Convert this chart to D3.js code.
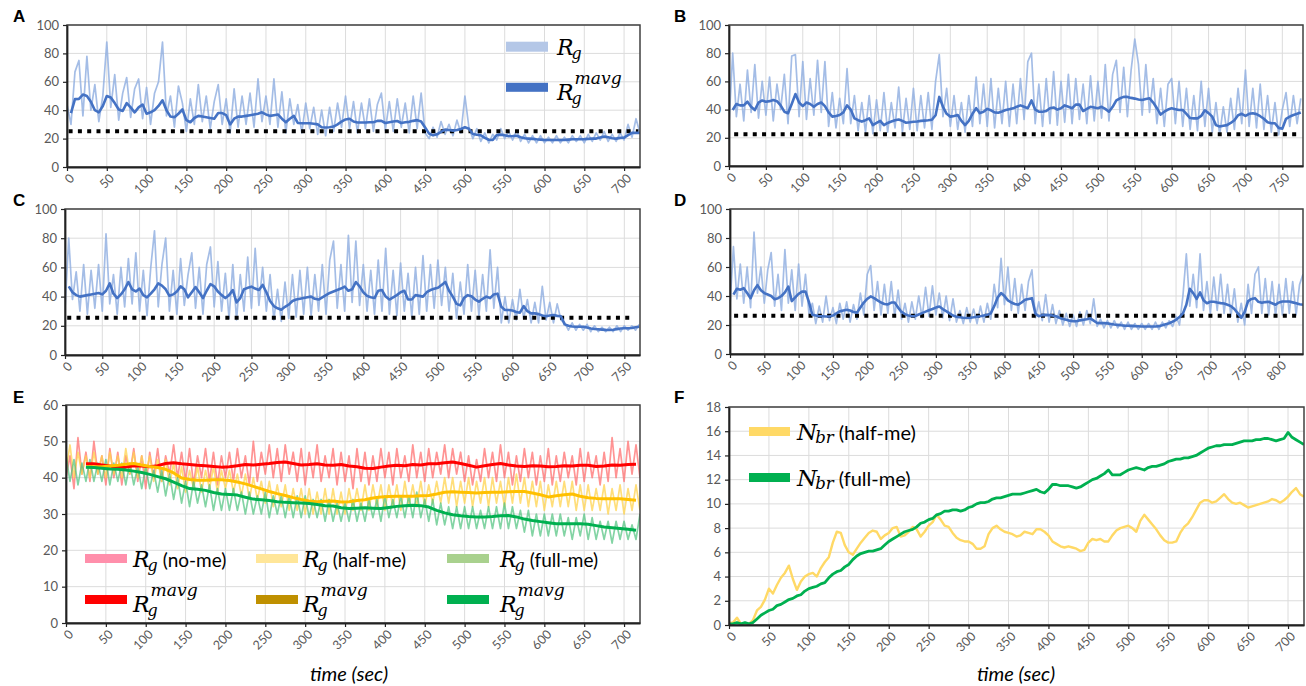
<!DOCTYPE html>
<meta charset="utf-8">
<script src="https://cdn.jsdelivr.net/npm/d3@7"></script>
<style>
  body { margin: 0; background: #fff; }
  .tk { font-family: Lato, "Liberation Sans", sans-serif; fill: #595959; }
  .lab { font-family: "Liberation Sans", Arial, sans-serif; font-weight: bold; font-size: 17px; }
  .ttl { font-family: Lato, "Liberation Sans", sans-serif; font-style: italic; font-size: 20px; }
  .leg { font-family: Lato, "Liberation Sans", sans-serif; }
</style>
<body>
<div id="vis"></div>
<script>
// ---- data (time step 5 s unless noted) ----
// panel A, raw Rg t=0..720, moving average t=5..720
var rawA = [44,30,67,75,36,78,40,58,32,50, 88,42,65,33,52,63,35,55,62,34, 56,30,52,60,88,36,50,28,57,45,
  25,48,30,58,32,50,27,46,58,30, 48,24,55,28,50,30,52,28,62,32, 50,30,62,28,53,24,48,30,44,24,
  45,27,42,23,40,22,42,25,45,28, 50,27,46,24,45,27,48,25,44,52, 26,46,25,48,28,45,24,50,27,52,
  24,20,28,21,32,23,30,22,33,24, 50,28,20,27,18,24,17,23,19,27, 20,25,19,26,18,23,17,22,17,22,
  17,21,17,22,17,21,17,22,18,22, 17,23,18,24,19,25,18,23,18,24, 19,30,21,34,24];
var mavgA = [38,47.8,48,51,50,46,40,38.5,43,50, 49,45,40.5,39.5,45,42,38.5,42,44,37.5,
  38.5,40,43,47,40,35.5,35,37.5,40.5,33, 31.5,34.5,36,35.5,35,34.5,34,38,38,36.5,
  30,34,35.5,35.5,36,36.5,37,37.5,38.5,37, 36,36.5,37,34,31.5,34,36,31,30.8,30.8,
  30.8,30.5,30,28,27.8,28,28.5,30,32,33.5, 34,32,31.3,31.3,31.3,31.5,31.5,32.5,32.5,31,
  31.5,32,32.4,31,31.5,31.8,32.5,33,32,27.8, 23.5,22.3,23,24.8,26.3,26,25.6,26,26.8,28,
  27,23.2,22.7,22.3,20.5,19.2,19,22.5,22.8,22.3, 21.7,21.8,22,21,20.2,20,19.8,19.5,19.3,19,
  19,19,19,19,19,19.3,19.5,19.5,19.5,19.6, 19.8,20,20,20.8,21.5,21,20.3,20,20.5,20.7, 22.5,24,24,24];

// panel B, raw t=0..775, mavg t=5..775
var rawB = [30,80,35,58,32,68,38,72,34,60, 36,63,32,58,40,65,30,78,79,35, 74,33,62,36,75,38,74,28,52,27,
  48,30,69,30,50,25,45,24,50,23, 47,25,52,24,45,27,56,24,48,26, 55,25,50,27,52,26,60,79,35,55,
  28,50,26,45,24,50,28,63,30,58, 28,62,27,55,30,60,28,58,30,62, 33,74,80,30,58,28,62,30,67,29,
  60,31,65,30,62,33,58,30,64,32, 60,34,72,32,65,75,38,70,35,68, 90,72,36,72,38,62,30,55,28,58,
  62,30,60,28,55,26,50,25,60,28, 55,24,45,22,42,24,48,26,55,30, 68,28,55,27,58,26,50,24,45,22,
  40,52,28,50,30,48];
var mavgB = [39.7,44,43,43,45.6,42,39.7,45,46.5,45.6, 46,46.8,46,43,38.5,37.4,44,51,45,42.5,
  45,44,42,44,45,42.5,38,35,35.5,36.2, 38,43,40,33.8,32.5,31.5,32.5,33.8,29,30.5,
  32,29,30.5,31.5,32.5,33,32,30.7,31,31.4, 31.6,32,32.2,32.4,32.8,36,49,42,37,35,
  35.5,36.2,32,29,32,37,41,37.5,38.5,40.5, 39.5,38,37.8,38.7,39.7,40.3,40.9,42,43,42,
  41,46.5,40,38.5,38.5,39,41,41.5,40,41, 43,42,41,43.5,43.5,39,40.5,42,41.5,41,
  42,40.5,38.5,42,46.5,48,49,49,48.3,47.8, 47.2,46.8,47.5,48,45,41,36.5,38.5,40,40.9,
  40.3,39.7,39.7,37,34,33.8,33.8,35.5,39.5,37.5, 35,29,28,28.5,29,30.5,32.5,36,37,35.5,
  37,37.4,36.8,35.3,33.5,31,30.3,30.3,27,26.5, 33.5,35,36.2,37,38];

// panel C, raw t=0..770, mavg t=5..770
var rawC = [32,80,38,57,30,62,28,58,32,62, 30,83,35,55,28,60,33,66,35,70, 30,58,27,60,85,33,62,80,30,58,
  28,66,34,55,70,32,60,28,62,74, 33,64,30,56,25,62,24,55,30,67, 32,73,34,60,30,55,24,45,23,50,
  25,55,26,58,28,60,27,55,30,62, 28,65,78,32,62,30,82,36,78,34, 62,30,58,28,65,30,73,28,58,27,
  63,30,56,26,60,28,68,30,62,32, 65,34,60,30,56,25,50,28,62,30, 58,27,55,30,72,32,60,22,40,22,
  38,24,45,25,38,22,36,22,47,24, 36,22,35,24,22,17,22,17,21,17, 21,16,20,16,19,16,19,16,20,16,
  20,17,20,17,21];
var mavgC = [47,43,41,40,40.5,41,41.5,42,42.5,41.5, 44,49,42,39,41.5,45,50,45,43.5,45.5,
  41,39.5,42,45,49,47.5,45,40.5,41.5,43.5, 47,45,39.5,43,46.5,43,39,44,48.5,47,
  43.5,41,39,41,44.5,36,39,45,46,46.8, 45.5,44.5,48,43,37,33.5,32,31,33,34.5,
  37,38,38.5,39,39.5,40,38.5,38,39.5,41, 42.5,43.5,44.5,45.5,46.8,44,45,50,47,43,
  40.5,39.5,39,44,44.5,40,38,39.5,41,43, 44,38,38,41,40.5,40,43,44.5,45.3,46,
  48,50,44,40,35,34,39,41,40.3,38, 36.5,38.5,40,39,41.5,42,33,30.8,30.8,30.5,
  29.5,29,33.5,30,28.5,28.5,28,27,26.5,27, 27.4,26.8,26.5,21,20,19.5,19.4,19.4,19.4,18.8,
  18.2,17.8,17.6,17.4,17.2,17.1,17.3,17.7,18.1,18.3, 18.3,18.5,19,19.4];

// panel D, raw t=0..835, mavg t=5..835
var rawD = [34,74,38,62,35,60,32,84,42,60, 35,58,70,33,55,30,72,35,58,30, 62,33,55,28,35,21,33,22,40,23,
  32,21,35,24,36,22,34,24,42,27, 55,61,30,50,27,48,28,50,26,44, 24,35,22,36,24,40,25,46,26,47,
  27,42,25,40,23,38,22,30,21,32, 22,31,21,33,22,35,24,48,32,66, 34,60,30,52,28,48,30,50,58,25,
  36,23,41,22,34,21,30,20,28,19, 27,19,29,20,30,21,38,19,24,18, 23,18,23,18,22,17,22,17,21,17,
  21,17,21,17,22,17,22,18,23,19, 26,20,40,69,33,55,32,69,30,50, 28,53,30,55,28,48,26,45,22,35,
  20,48,28,55,60,28,52,27,50,26, 48,27,52,28,50,27,48,55];
var mavgD = [41,45,44.3,45.4,42,38.5,44,47.5,44,42, 41,40,37.8,38.5,40,42.5,46.5,36.5,39,41.5,
  43,43,36,27,26.5,26,26,25.9,25.9,26.5, 28,29.4,30,30.5,30,29,28.5,32,35.5,38,
  39.7,38.5,37,35.5,34.5,34.2,35.5,35.5,32,29, 27.5,26.5,26,26.2,27.2,28.2,29.2,30.2,31,32,
  32.8,31,29.6,28,26.5,25.7,25.3,25,24.8,25, 25.3,25.7,26,26.5,27,28,33,39,42,40,
  37,35.5,34.5,34,35.5,37.4,38,38.5,28,26, 26.8,27,26.8,26.5,26,25,24.2,23.6,23,22.6,
  22.6,23.2,23.6,24,24.6,23,21.4,21.3,21.3,21.1, 20.7,20.3,20.1,19.8,19.6,19.5,19.4,19.2,19.1,19,
  19,19,19,19,19.2,19.8,20.5,21.2,22.3,23.6, 25.5,28,34,45,42,38,42.5,37,35,36,
  36,35.5,35.1,34.8,34,33,31,28,25,29, 36.5,38,38.5,36,35.3,35.8,36,35,34,35.5,
  36.2,36.2,36.2,35.6,35,34.3,34];

// threshold (dotted) lines A..D: value, start, end (s)
var thrValue = [25.2, 22.5, 25.5, 26.4];
var thrStart = [2, 7, 3, 6];
var thrEnd = [718, 772, 762, 827];

// panel E, raw t=0..720 (step 5), moving averages t=25..715 (step 10)
var rawNoMe = [40,46,37,51,41,47,39,50,41,46, 38,48,40,47,38,46,41,48,39,46, 37,47,40,48,39,46,41,49,40,47,
  39,48,38,46,40,48,39,47,38,46, 40,47,39,48,40,46,38,50,39,47, 41,49,40,48,39,49,41,47,39,48,
  38,47,40,49,39,46,40,48,38,47, 39,46,37,48,39,47,38,46,39,48, 40,47,38,48,40,46,39,49,40,47,
  39,48,40,47,41,49,40,48,41,47, 39,46,38,45,39,48,40,47,39,49, 40,47,38,46,39,48,40,47,38,46,
  39,48,38,46,39,47,40,46,38,48, 39,47,40,46,38,47,39,51,40,48, 39,50,41,49,40];
var rawHalfMe = [42,49,40,47,41,46,40,47,41,46, 40,47,41,46,40,48,41,47,40,46, 41,46,39,45,39,45,38,44,37,43,
  36,42,37,43,36,42,37,43,36,42, 37,42,36,41,35,41,34,40,34,39, 33,39,32,38,32,38,31,37,31,37,
  30,37,30,36,30,37,30,37,30,36, 30,37,31,37,31,38,31,38,32,38, 31,38,32,38,31,39,32,38,32,39,
  32,38,33,39,33,40,33,40,32,39, 33,40,32,39,33,40,32,40,33,39, 32,40,33,41,33,40,32,39,32,39,
  31,38,32,39,32,39,32,39,31,38, 31,38,31,37,31,38,30,37,31,38, 30,37,31,38,31];
var rawFullMe = [46,39,45,38,44,39,45,39,44,39, 45,38,44,39,44,38,44,38,43,37, 43,37,42,36,42,35,41,34,40,33,
  39,32,39,33,38,32,38,31,37,31, 37,31,37,31,36,30,36,30,35,30, 36,29,35,30,35,29,35,29,35,29,
  35,29,34,29,34,28,34,28,33,28, 33,28,34,28,33,28,34,29,34,28, 35,29,34,29,35,29,35,29,36,29,
  34,28,34,27,33,27,32,26,32,26, 32,26,32,26,31,26,32,26,32,26, 33,26,32,26,31,25,31,24,30,24,
  30,24,30,24,30,24,29,23,29,24, 30,23,29,23,28,23,28,22,28,23, 28,23,27,23,30];
var mavgNoMe = [43.8,43.8,43.5,43.2,42.8,42.9,43.3,43.2,43,43.3, 43.9,44.1,43.8,43.6,43.4,43.3,43.1,42.9,43,43.3,
  43.6,43.5,43.7,43.9,44.2,44.3,43.9,43.5,43.6,43.8, 43.5,43.4,43.6,43.2,43,42.6,42.5,42.9,43.2,43.4,
  43.3,43.6,43.5,43.8,43.8,44.1,44.3,43.9,43.4,42.9, 43.3,43.6,43.9,43.5,43.2,43.1,43.3,43.2,43,43.1,
  43.3,43.2,43.4,43.4,43.1,43.2,43.5,43.4,43.6,43.7];
var mavgHalfMe = [43,43,43,43.2,43.4,43.7,43.9,43.5,43.1,42.8, 42.3,41.3,39.9,39.5,39.3,39.3,39.4,39.4,39.2,38.8,
  38.3,37.6,36.9,36.2,35.6,35.1,34.5,34,33.6,33.4, 33.5,33.6,33.3,33.4,33.7,33.9,34.4,34.7,34.8,34.9,
  34.9,34.9,35,35.1,35.5,36,36.1,36,35.9,35.8, 35.9,36,36,36.1,36.2,36.2,35.8,35.3,34.7,35,
  35.3,35.5,34.9,34.5,34.3,34.2,34.2,34.2,34,33.8];
var mavgFullMe = [42.9,42.8,42.6,42.4,42.3,42.1,41.8,41.4,40.9,40.3, 39.7,38.8,37.8,37,36.8,36.5,35.9,35.5,35.4,35.2,
  34.6,34.1,33.9,33.7,33.4,33.2,33.1,33,32.9,32.6, 32.3,32.2,31.7,31.5,31.6,31.7,31.6,31.5,31.8,32.1,
  32.3,32.4,32.3,31.9,31,30.3,29.8,29.5,29.3,29.2, 29.2,29.3,29.5,29.6,29.2,28.6,28.2,27.9,27.6,27.3,
  27.3,27.3,27.3,27.2,26.8,26.4,26.2,26,25.8,25.5];

// panel F, Nbr t=0..720
var nbrHalfMe = [0.2,0.2,0.6,0.1,0.1,0.1,0.4,1.2,1.5,2.1, 3,2.6,3.3,3.9,4.3,4.9,3.8,2.9,3.6,4,
  4.2,4.3,4,4.7,5.2,5.6,6.8,7.7,7.6,6.6, 6,5.8,6.3,6.8,7.2,7.6,7.8,7.7,7.1,7.4,
  7.6,8,8.1,7.3,7.4,7.7,8.1,7.9,7.3,7.7, 8.2,8.5,9.1,8.7,8.2,8.1,7.6,7.2,7,6.9,
  6.9,6.7,6.3,6.3,6.5,7.5,8,8.2,7.9,7.7, 7.6,7.5,7.3,7.4,7.7,7.6,7.5,7.9,7.9,7.7,
  7.4,6.9,6.7,6.5,6.4,6.5,6.4,6.3,6.1,6.2, 6.8,7.1,7,7.1,6.9,6.9,7.4,7.8,8,8.1,
  8.2,8,7.7,8.6,9.1,8.7,8.3,7.9,7.4,7, 6.8,6.8,6.9,7.6,8.1,8.4,8.9,9.5,10.1,10.3,
  10.3,10.1,10.2,10.5,10.8,10.4,10.1,10,10.1,9.9, 9.7,9.8,9.9,10,10.1,10.2,10.4,10.3,10.1,10.3,
  10.6,11,11.3,10.8,10.6];
var nbrFullMe = [0.1,0.1,0.2,0.1,0.2,0.1,0.2,0.5,0.8,1, 1.2,1.3,1.6,1.7,1.9,2.1,2.2,2.4,2.5,2.8,
  3,3.1,3.2,3.4,3.5,3.9,4.2,4.4,4.5,4.8, 5,5.4,5.7,5.9,6,6.1,6.1,6.2,6.3,6.6,
  6.9,7.1,7.3,7.5,7.7,7.8,7.9,8.1,8.4,8.5, 8.7,8.8,9.1,9.2,9.4,9.4,9.5,9.5,9.4,9.5,
  9.7,9.8,10,10.1,10.1,10.2,10.4,10.5,10.5,10.6, 10.7,10.8,10.8,10.8,10.9,11,11.1,11.2,11,10.9,
  11.2,11.6,11.6,11.5,11.5,11.5,11.4,11.3,11.4,11.6, 11.8,12,12.1,12.3,12.5,12.8,12.4,12.4,12.4,12.6,
  12.8,12.9,13,12.9,12.8,13,13.1,13.1,13.2,13.3, 13.5,13.6,13.7,13.7,13.8,13.8,13.9,14,14.2,14.4,
  14.6,14.7,14.8,14.8,14.9,14.9,14.9,15,15.1,15.2, 15.2,15.2,15.3,15.3,15.4,15.4,15.3,15.2,15.3,15.4,
  15.9,15.5,15.3,15.1,14.9];

var legendE = ["(no-me)", "(half-me)", "(full-me)"];
var legendF = ["(half-me)", "(full-me)"];

// ---- layout ----
var svg = d3.select("#vis").append("svg").attr("width", 1306).attr("height", 686);

var layout = {
  A: {l: 67, r: 640, t: 25, b: 167, xmax: 720, ymax: 100, ystep: 20, lx: 13, ly: 22},
  B: {l: 729, r: 1303, t: 25, b: 166, xmax: 778, ymax: 100, ystep: 20, lx: 674, ly: 22},
  C: {l: 65, r: 640, t: 209, b: 355, xmax: 771, ymax: 100, ystep: 20, lx: 13, ly: 206},
  D: {l: 730, r: 1303, t: 209, b: 354, xmax: 835, ymax: 100, ystep: 20, lx: 674, ly: 206},
  E: {l: 66, r: 640, t: 405, b: 623, xmax: 720, ymax: 60, ystep: 10, lx: 13, ly: 403},
  F: {l: 729, r: 1304, t: 407, b: 625, xmax: 720, ymax: 18, ystep: 2, lx: 674, ly: 403}
};

function pts(arr, t0, step) {
  return arr.map(function(v, i) { return [t0 + i * step, v]; });
}

function panel(id) {
  var p = layout[id];
  var x = d3.scaleLinear().domain([0, p.xmax]).range([p.l, p.r]);
  var y = d3.scaleLinear().domain([0, p.ymax]).range([p.b, p.t]);
  var xt = d3.range(0, p.xmax + 1, 50);
  var yt = d3.range(0, p.ymax + 0.001, p.ystep);
  var g = svg.append("g");

  // grid
  g.selectAll(".gx").data(xt.slice(1)).enter().append("line")
    .attr("x1", function(d) { return x(d); }).attr("x2", function(d) { return x(d); })
    .attr("y1", p.t).attr("y2", p.b)
    .attr("stroke", "#dcdcdc").attr("stroke-width", 1);
  g.selectAll(".gy").data(yt.slice(1)).enter().append("line")
    .attr("x1", p.l).attr("x2", p.r)
    .attr("y1", function(d) { return y(d); }).attr("y2", function(d) { return y(d); })
    .attr("stroke", "#dcdcdc").attr("stroke-width", 1);

  svg.append("clipPath").attr("id", "clip" + id).append("rect")
    .attr("x", p.l).attr("y", p.t).attr("width", p.r - p.l).attr("height", p.b - p.t);
  var plot = g.append("g").attr("clip-path", "url(#clip" + id + ")");
  var top = svg.append("g");

  function finish() {
    top.append("rect").attr("x", p.l).attr("y", p.t)
      .attr("width", p.r - p.l).attr("height", p.b - p.t)
      .attr("fill", "none").attr("stroke", "#404040").attr("stroke-width", 1.5);
    var ax = top.append("g").attr("transform", "translate(0," + p.b + ")")
      .call(d3.axisBottom(x).tickValues(xt).tickSize(4).tickSizeOuter(0).tickFormat(""));
    var ay = top.append("g").attr("transform", "translate(" + p.l + ",0)")
      .call(d3.axisLeft(y).tickValues(yt).tickSize(4).tickSizeOuter(0).tickFormat(""));
    [ax, ay].forEach(function(a) {
      a.select(".domain").attr("stroke", "#222").attr("stroke-width", 1.8);
      a.selectAll(".tick line").attr("stroke", "#222").attr("stroke-width", 1.2);
    });
    top.selectAll(".yl" + id).data(yt).enter().append("text")
      .attr("class", "tk").attr("x", p.l - 8).attr("y", function(d) { return y(d); })
      .attr("dy", "0.35em").attr("text-anchor", "end").style("font-size", "13px")
      .text(function(d) { return d; });
    top.selectAll(".xl" + id).data(xt).enter().append("text")
      .attr("class", "tk")
      .attr("transform", function(d) { return "translate(" + (x(d) + 5) + "," + (p.b + 9) + ") rotate(-45)"; })
      .attr("dy", "0.35em").attr("text-anchor", "end").style("font-size", "12.5px")
      .text(function(d) { return d; });
    svg.append("text").attr("class", "lab").attr("x", p.lx).attr("y", p.ly).text(id);
  }
  return {x: x, y: y, plot: plot, top: top, finish: finish, p: p};
}

function drawLine(P, data, color, width, opacity) {
  P.plot.append("path").datum(data)
    .attr("fill", "none").attr("stroke", color).attr("stroke-width", width)
    .attr("stroke-opacity", opacity == null ? 1 : opacity)
    .attr("stroke-linejoin", "round")
    .attr("d", d3.line().x(function(d) { return P.x(d[0]); }).y(function(d) { return P.y(d[1]); }));
}

function drawThreshold(P, i) {
  P.plot.append("line")
    .attr("x1", P.x(thrStart[i])).attr("x2", P.x(thrEnd[i]))
    .attr("y1", P.y(thrValue[i])).attr("y2", P.y(thrValue[i]))
    .attr("stroke", "#000").attr("stroke-width", 4).attr("stroke-dasharray", "4 5.3");
}

// math-style label: base with subscript and optional superscript
function mathText(g, x, y, base, sub, sup, size) {
  var fam = "'DejaVu Serif', 'Liberation Serif', serif";
  var b = g.append("text").attr("x", x).attr("y", y)
    .style("font-family", fam).style("font-style", "italic").style("font-size", size + "px").text(base);
  var w = b.node().getComputedTextLength();
  var s = g.append("text").attr("x", x + w - 2).attr("y", y + size * 0.17)
    .style("font-family", fam).style("font-style", "italic").style("font-size", (size * 0.72) + "px").text(sub);
  var end = x + w - 2 + s.node().getComputedTextLength();
  if (sup) {
    var u = g.append("text").attr("x", x + w + 1).attr("y", y - size * 0.72)
      .style("font-family", fam).style("font-style", "italic").style("font-size", (size * 0.78) + "px").text(sup);
    end = Math.max(end, x + w + 1 + u.node().getComputedTextLength());
  }
  return end;
}

function swatch(g, x1, x2, yc, h, color) {
  g.append("rect").attr("x", x1).attr("y", yc - h / 2).attr("width", x2 - x1).attr("height", h).attr("fill", color);
}

// ---- panels A-D ----
var rawBlue = "#94b1e2", mavBlue = "#4472c4";
[["A", rawA, mavgA], ["B", rawB, mavgB], ["C", rawC, mavgC], ["D", rawD, mavgD]].forEach(function(s, i) {
  var P = panel(s[0]);
  drawLine(P, pts(s[1], 0, 5), rawBlue, 1.7, 0.85);
  drawThreshold(P, i);
  drawLine(P, pts(s[2], 5, 5), mavBlue, 2.6);
  P.finish();
  if (s[0] === "A") {
    swatch(P.top, 506, 548, 46.7, 10, "#b4c7e7");
    mathText(P.top, 557, 55, "R", "g", null, 22);
    swatch(P.top, 506, 548, 87.3, 9, mavBlue);
    mathText(P.top, 557, 100, "R", "g", "mavg", 22);
  }
});

// ---- panel E ----
var PE = panel("E");
drawLine(PE, pts(rawNoMe, 0, 5), "#ff7070", 1.7, 0.75);
drawLine(PE, pts(rawHalfMe, 0, 5), "#ffd34d", 1.7, 0.75);
drawLine(PE, pts(rawFullMe, 0, 5), "#4fc27e", 1.7, 0.7);
drawLine(PE, pts(mavgNoMe, 25, 10), "#ff0000", 3);
drawLine(PE, pts(mavgHalfMe, 25, 10), "#ffc000", 3);
drawLine(PE, pts(mavgFullMe, 25, 10), "#00b050", 3);
PE.finish();
PE.top.append("text").attr("class", "ttl").attr("x", 349).attr("y", 681).attr("text-anchor", "middle").text("time (sec)");

var colX = [[85, 127, 133], [256, 298, 303], [447, 489, 500]];
var rawSw = ["#ff8fab", "#ffe699", "#a9d18e"];
var mavSw = ["#ff0000", "#bf9000", "#00b050"];
legendE.forEach(function(txt, i) {
  var c = colX[i];
  swatch(PE.top, c[0], c[1], 558.5, 9, rawSw[i]);
  var e = mathText(PE.top, c[2], 567, "R", "g", null, 22);
  PE.top.append("text").attr("class", "leg").attr("x", e + 5).attr("y", 567)
    .style("font-size", "19px").text(txt);
  swatch(PE.top, c[0], c[1], 599.5, 9, mavSw[i]);
  mathText(PE.top, c[2], 612, "R", "g", "mavg", 22);
});

// ---- panel F ----
var PF = panel("F");
drawLine(PF, pts(nbrHalfMe, 0, 5), "#ffd966", 2.4);
drawLine(PF, pts(nbrFullMe, 0, 5), "#00b050", 2.8);
PF.finish();
PF.top.append("text").attr("class", "ttl").attr("x", 1016).attr("y", 681).attr("text-anchor", "middle").text("time (sec)");
var fCol = ["#ffd966", "#00b050"];
var fRow = [431.5, 477.5];
legendF.forEach(function(txt, i) {
  swatch(PF.top, 749, 790, fRow[i], 9, fCol[i]);
  var e = mathText(PF.top, 797, fRow[i] + 8, "N", "br", null, 23);
  PF.top.append("text").attr("class", "leg").attr("x", e + 5).attr("y", fRow[i] + 8)
    .style("font-size", "20px").text(txt);
});
</script>
</body>
